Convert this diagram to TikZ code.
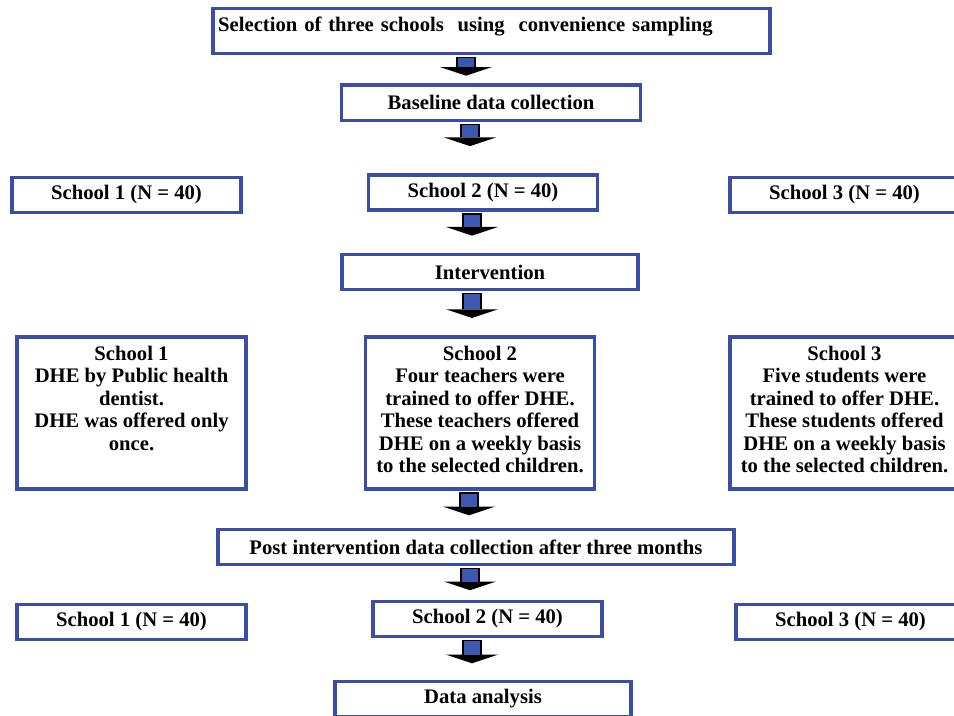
\documentclass[tikz,border=0pt]{standalone}
\usepackage{fontspec}
\setmainfont{Liberation Serif}
\usetikzlibrary{arrows.meta}
\definecolor{boxblue}{RGB}{58,78,168}
\definecolor{shaftblue}{RGB}{62,88,178}
\newcommand{\detailtext}[1]{\parbox[c][112pt][t]{172pt}{\centering\vspace*{5.5pt}#1}}

\begin{document}
\begin{tikzpicture}[x=0.75pt, y=-0.75pt,
          box/.style={draw=boxblue, line width=2.6pt, fill=white, inner sep=0pt,
            font=\fontsize{15.5}{16.9}\selectfont\bfseries,
            minimum width=172pt, minimum height=26pt},
          detail/.style={box, minimum height=114pt},
          flow/.style={draw=black, line width=14.5pt,
            -{Triangle[width=39pt, length=6.5pt, line width=0pt]},
            shorten <=1.3pt, shorten >=#1,
            postaction={draw=shaftblue, line width=12pt, -, shorten <=2.5pt, shorten >=#1+6.5pt}},
        ]
        \useasboundingbox (0,0) rectangle (954,715);
        \clip (0,0) rectangle (954,715);
        \fill[white] (0,0) rectangle (954,715);
        % steps down the middle
        \node[box, minimum width=418pt, minimum height=33.4pt, text width=410pt, align=left, text depth=10pt]
          (sel) at (491.5,31) {Selection of three schools\ \ using\ \ convenience sampling};
        \node[box, minimum width=224pt, minimum height=26.6pt] (base) at (491,102.5) {Baseline data collection};
        \node[box, minimum width=222pt] (int) at (490,272) {Intervention};
        \node[box, minimum width=387pt] (post) at (476,547) {Post intervention data collection after three months};
        \node[box, minimum width=222pt] (ana) at (483,699) {Data analysis};
        % baseline groups
        \node[box] (sa1) at (126.5,195) {School 1 (N = 40)};
        \node[box] (sa2) at (483,192.5) {School 2 (N = 40)};
        \node[box] (sa3) at (844.5,195) {School 3 (N = 40)};
        % what each school got
        \node[detail] (dhe1) at (131.5,413) {\detailtext{School 1\\DHE by Public health\\dentist.\\DHE was offered only\\once.}};
        \node[detail] (dhe2) at (480,413) {\detailtext{School 2\\Four teachers were\\trained to offer DHE.\\These teachers offered\\DHE on a weekly basis\\to the selected children.}};
        \node[detail] (dhe3) at (844.5,413) {\detailtext{School 3\\Five students were\\trained to offer DHE.\\These students offered\\DHE on a weekly basis\\to the selected children.}};
        % follow-up groups
        \node[box] (sb1) at (131.5,622) {School 1 (N = 40)};
        \node[box] (sb2) at (487.5,619) {School 2 (N = 40)};
        \node[box] (sb3) at (850.5,622) {School 3 (N = 40)};
        % block arrows
        \draw[flow=5.5pt] (466,0 |- sel.south) -- (466,0 |- base.north);
        \draw[flow=20.5pt] (470,0 |- base.south) -- (470,0 |- sa2.north);
        \draw[flow=13pt] (472,0 |- sa2.south) -- (472,0 |- int.north);
        \draw[flow=13pt] (472,0 |- int.south) -- (472,0 |- dhe2.north);
        \draw[flow=9.5pt] (469,0 |- dhe2.south) -- (469,0 |- post.north);
        \draw[flow=7.3pt] (470,0 |- post.south) -- (470,0 |- sb2.north);
        \draw[flow=12.5pt] (472,0 |- sb2.south) -- (472,0 |- ana.north);
      \end{tikzpicture}
\end{document}
